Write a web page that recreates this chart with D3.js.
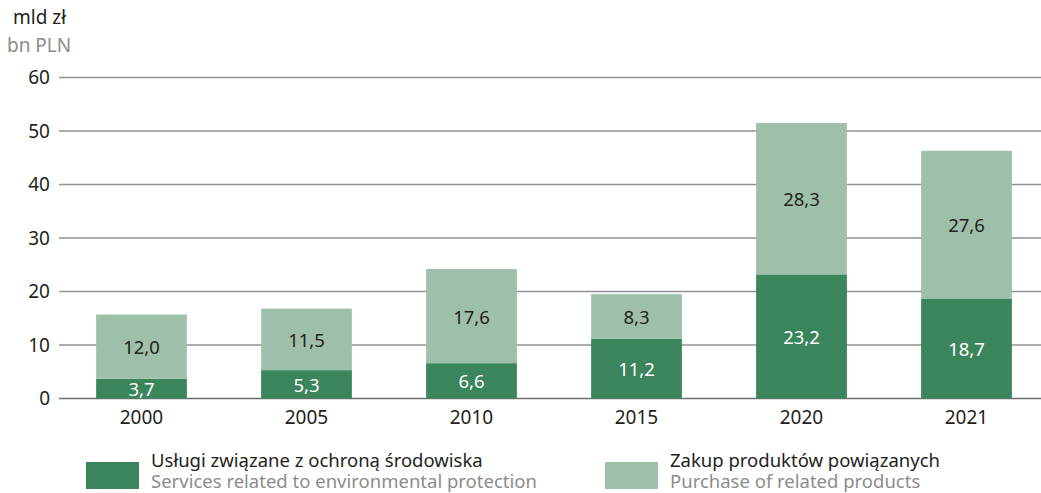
<!DOCTYPE html>
<html>
<head>
<meta charset="utf-8">
<script src="https://d3js.org/d3.v7.min.js"></script>
<style>
  body { margin: 0; background: #fff; }
  text { font-family: "Noto Sans", "Open Sans", sans-serif; fill: #231f20; }
  .grid line { stroke: #929292; stroke-width: 1.4; }
  .en { fill: #8c8c8c; }
</style>
</head>
<body>
<script>
var years = ["2000", "2005", "2010", "2015", "2020", "2021"];
var services = [3.7, 5.3, 6.6, 11.2, 23.2, 18.7];
var products = [12.0, 11.5, 17.6, 8.3, 28.3, 27.6];
var yTicks = [0, 10, 20, 30, 40, 50, 60];
var seriesNames = [
  { pl: "Usługi związane z ochroną środowiska", en: "Services related to environmental protection" },
  { pl: "Zakup produktów powiązanych", en: "Purchase of related products" }
];
var colors = ["#3a855c", "#9ec0aa"];

var W = 1041, H = 493;
var svg = d3.select("body").append("svg").attr("width", W).attr("height", H);

var x = d3.scaleBand().domain(years).range([59, 1049]).paddingInner(0.45).paddingOuter(0.225);
var y = d3.scaleLinear().domain([0, 60]).range([398.5, 77.5]);

// axis title
svg.append("text").attr("x", 13).attr("y", 24).style("font-size", "19px").text("mld zł");
svg.append("text").attr("x", 7).attr("y", 52).attr("class", "en").style("font-size", "19px").text("bn PLN");

// grid
var grid = svg.append("g").attr("class", "grid");
grid.selectAll("line").data(yTicks).enter().append("line")
  .attr("x1", 59).attr("x2", W)
  .attr("y1", function(d){ return y(d); }).attr("y2", function(d){ return y(d); })
  .style("stroke", function(d){ return d === 0 ? "#6f6f6f" : null; });
grid.selectAll("text").data(yTicks).enter().append("text")
  .attr("x", 50).attr("y", function(d){ return y(d); })
  .attr("dy", "0.35em").attr("text-anchor", "end").style("font-size", "19px")
  .text(function(d){ return d; });

// stacked data
var rows = years.map(function(yr, i){ return { year: yr, s: services[i], p: products[i] }; });
var stack = d3.stack().keys(["s", "p"])(rows);
var fmt = function(v){ return v.toFixed(1).replace(".", ","); };

var layers = svg.append("g").selectAll("g").data(stack).enter().append("g")
  .attr("fill", function(d, i){ return colors[i]; });
layers.selectAll("rect").data(function(d){ return d; }).enter().append("rect")
  .attr("x", function(d){ return x(d.data.year); })
  .attr("width", x.bandwidth())
  .attr("y", function(d){ return y(d[1]); })
  .attr("height", function(d){ return y(d[0]) - y(d[1]); });

layers.each(function(layer, li){
  d3.select(this).selectAll("text.val").data(layer).enter().append("text")
    .attr("class", "val")
    .attr("x", function(d){ return x(d.data.year) + x.bandwidth() / 2; })
    .attr("y", function(d){ return (y(d[0]) + y(d[1])) / 2 + 1; })
    .attr("dy", "0.35em").attr("text-anchor", "middle")
    .style("font-size", "18.5px")
    .style("fill", li === 0 ? "#ffffff" : "#231f20")
    .text(function(d){ return fmt(d[1] - d[0]); });
});

// x labels
svg.append("g").selectAll("text").data(years).enter().append("text")
  .attr("x", function(d){ return x(d) + x.bandwidth() / 2; })
  .attr("y", 424).attr("text-anchor", "middle").style("font-size", "19px")
  .text(function(d){ return d; });

// legend
var legX = [86, 605];
var leg = svg.append("g").selectAll("g").data(seriesNames).enter().append("g")
  .attr("transform", function(d, i){ return "translate(" + legX[i] + ",0)"; });
leg.append("rect").attr("x", 0).attr("y", 462).attr("width", 53).attr("height", 27)
  .attr("fill", function(d, i){ return colors[i]; });
leg.append("text").attr("x", 65).attr("y", 467).style("font-size", "18.5px").text(function(d){ return d.pl; });
leg.append("text").attr("x", 65).attr("y", 488).attr("class", "en").style("font-size", "18.5px").text(function(d){ return d.en; });
</script>
</body>
</html>
